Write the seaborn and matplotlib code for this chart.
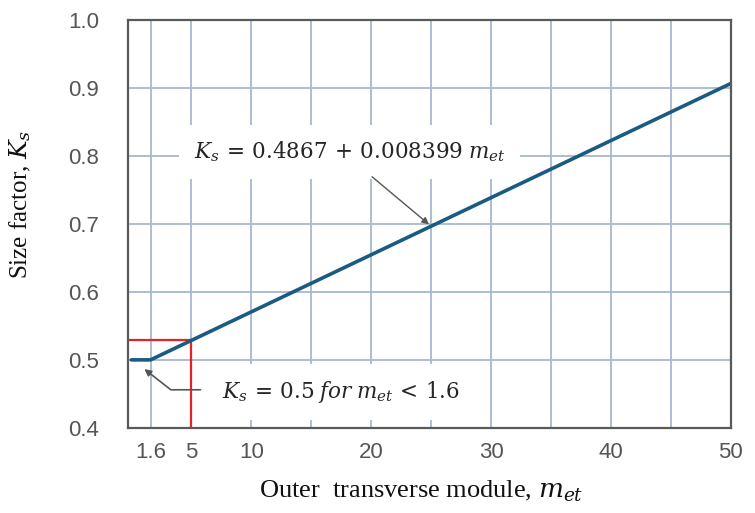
import pandas as pd
import seaborn as sns
import matplotlib.pyplot as plt

# size factor curve: flat 0.5 below 1.6, then Ks = 0.4867 + 0.008399 m_et
m_et = [0, 1.6, 50]
Ks = [0.5, 0.5, 0.4867 + 0.008399 * 50]

# red marker lines at m_et = 5
m_mark = 5
Ks_mark = 0.4867 + 0.008399 * 5

x_ticks = [1.6, 5, 10, 20, 30, 40, 50]
x_grid = [1.6, 5, 10, 15, 20, 25, 30, 35, 40, 45]
y_ticks = [0.4, 0.5, 0.6, 0.7, 0.8, 0.9, 1.0]

df = pd.DataFrame({'m_et': m_et, 'Ks': Ks})

sns.set_theme(style='white')
plt.rcParams['mathtext.fontset'] = 'dejavuserif'

fig = plt.figure(figsize=(7.55, 5.13), dpi=100)
ax = fig.add_axes([0.170, 0.166, 0.798, 0.795])

grid_col = '#a7b8cf'
for gx in x_grid:
    ax.axvline(gx, color=grid_col, lw=1.3, zorder=1)
for gy in y_ticks[1:-1]:
    ax.axhline(gy, color=grid_col, lw=1.3, zorder=1)

sns.lineplot(data=df, x='m_et', y='Ks', color='#1b5b82', lw=2.6, ax=ax, zorder=5)

# red guide lines
ax.plot([-1, m_mark, m_mark], [Ks_mark, Ks_mark, 0.39], color='#e3232b', lw=1.6, zorder=4)

ax.set_xlim(-0.25, 50)
ax.set_ylim(0.4, 1.0)
ax.set_xticks(x_ticks)
ax.set_xticklabels(['1.6', '5', '10', '20', '30', '40', '50'])
ax.set_yticks(y_ticks)
ax.set_yticklabels([f'{v:.1f}' for v in y_ticks])
ax.tick_params(length=0, labelsize=16, labelcolor='#555555')
ax.tick_params(axis='x', pad=10)
ax.tick_params(axis='y', pad=21)
for lab in ax.get_xticklabels() + ax.get_yticklabels():
    lab.set_family('Liberation Sans')

for s in ax.spines.values():
    s.set_color('#5a5a5a')
    s.set_linewidth(1.6)
    s.set_zorder(6)

ax.set_xlabel(r'Outer  transverse module, $m_{et}$', family='Liberation Serif',
              fontsize=19, color='#111111')
ax.set_ylabel(r'Size factor, $K_s$', family='Liberation Serif', fontsize=18,
              color='#111111')
ax.xaxis.set_label_coords(0.486, -0.125)
ax.yaxis.set_label_coords(-0.158, 0.547)

# annotations
ax.text(5.2, 0.806, r'$K_s\,=\,0.4867\,+\,0.008399\;m_{et}$', fontsize=15.5,
        va='center', ha='left', zorder=3,
        bbox=dict(boxstyle='square,pad=0.7', fc='white', ec='none'))
ax.annotate('', xy=(25, 0.6967), xytext=(19.9, 0.772),
            arrowprops=dict(arrowstyle='-|>', color='#555555', lw=1.0,
                            mutation_scale=10), zorder=4)

ax.text(7.6, 0.453, r'$K_s\,=\,0.5\;for\;m_{et}\,<\,1.6$', fontsize=15.5,
        va='center', ha='left', zorder=3,
        bbox=dict(boxstyle='square,pad=0.7', fc='white', ec='none'))
ax.annotate('', xy=(0.9, 0.489), xytext=(6.0, 0.456),
            arrowprops=dict(arrowstyle='-|>', color='#555555', lw=1.2,
                            mutation_scale=10,
                            connectionstyle='angle,angleA=0,angleB=-38,rad=0'),
            zorder=4)

fig.savefig('out.png', dpi=100)
